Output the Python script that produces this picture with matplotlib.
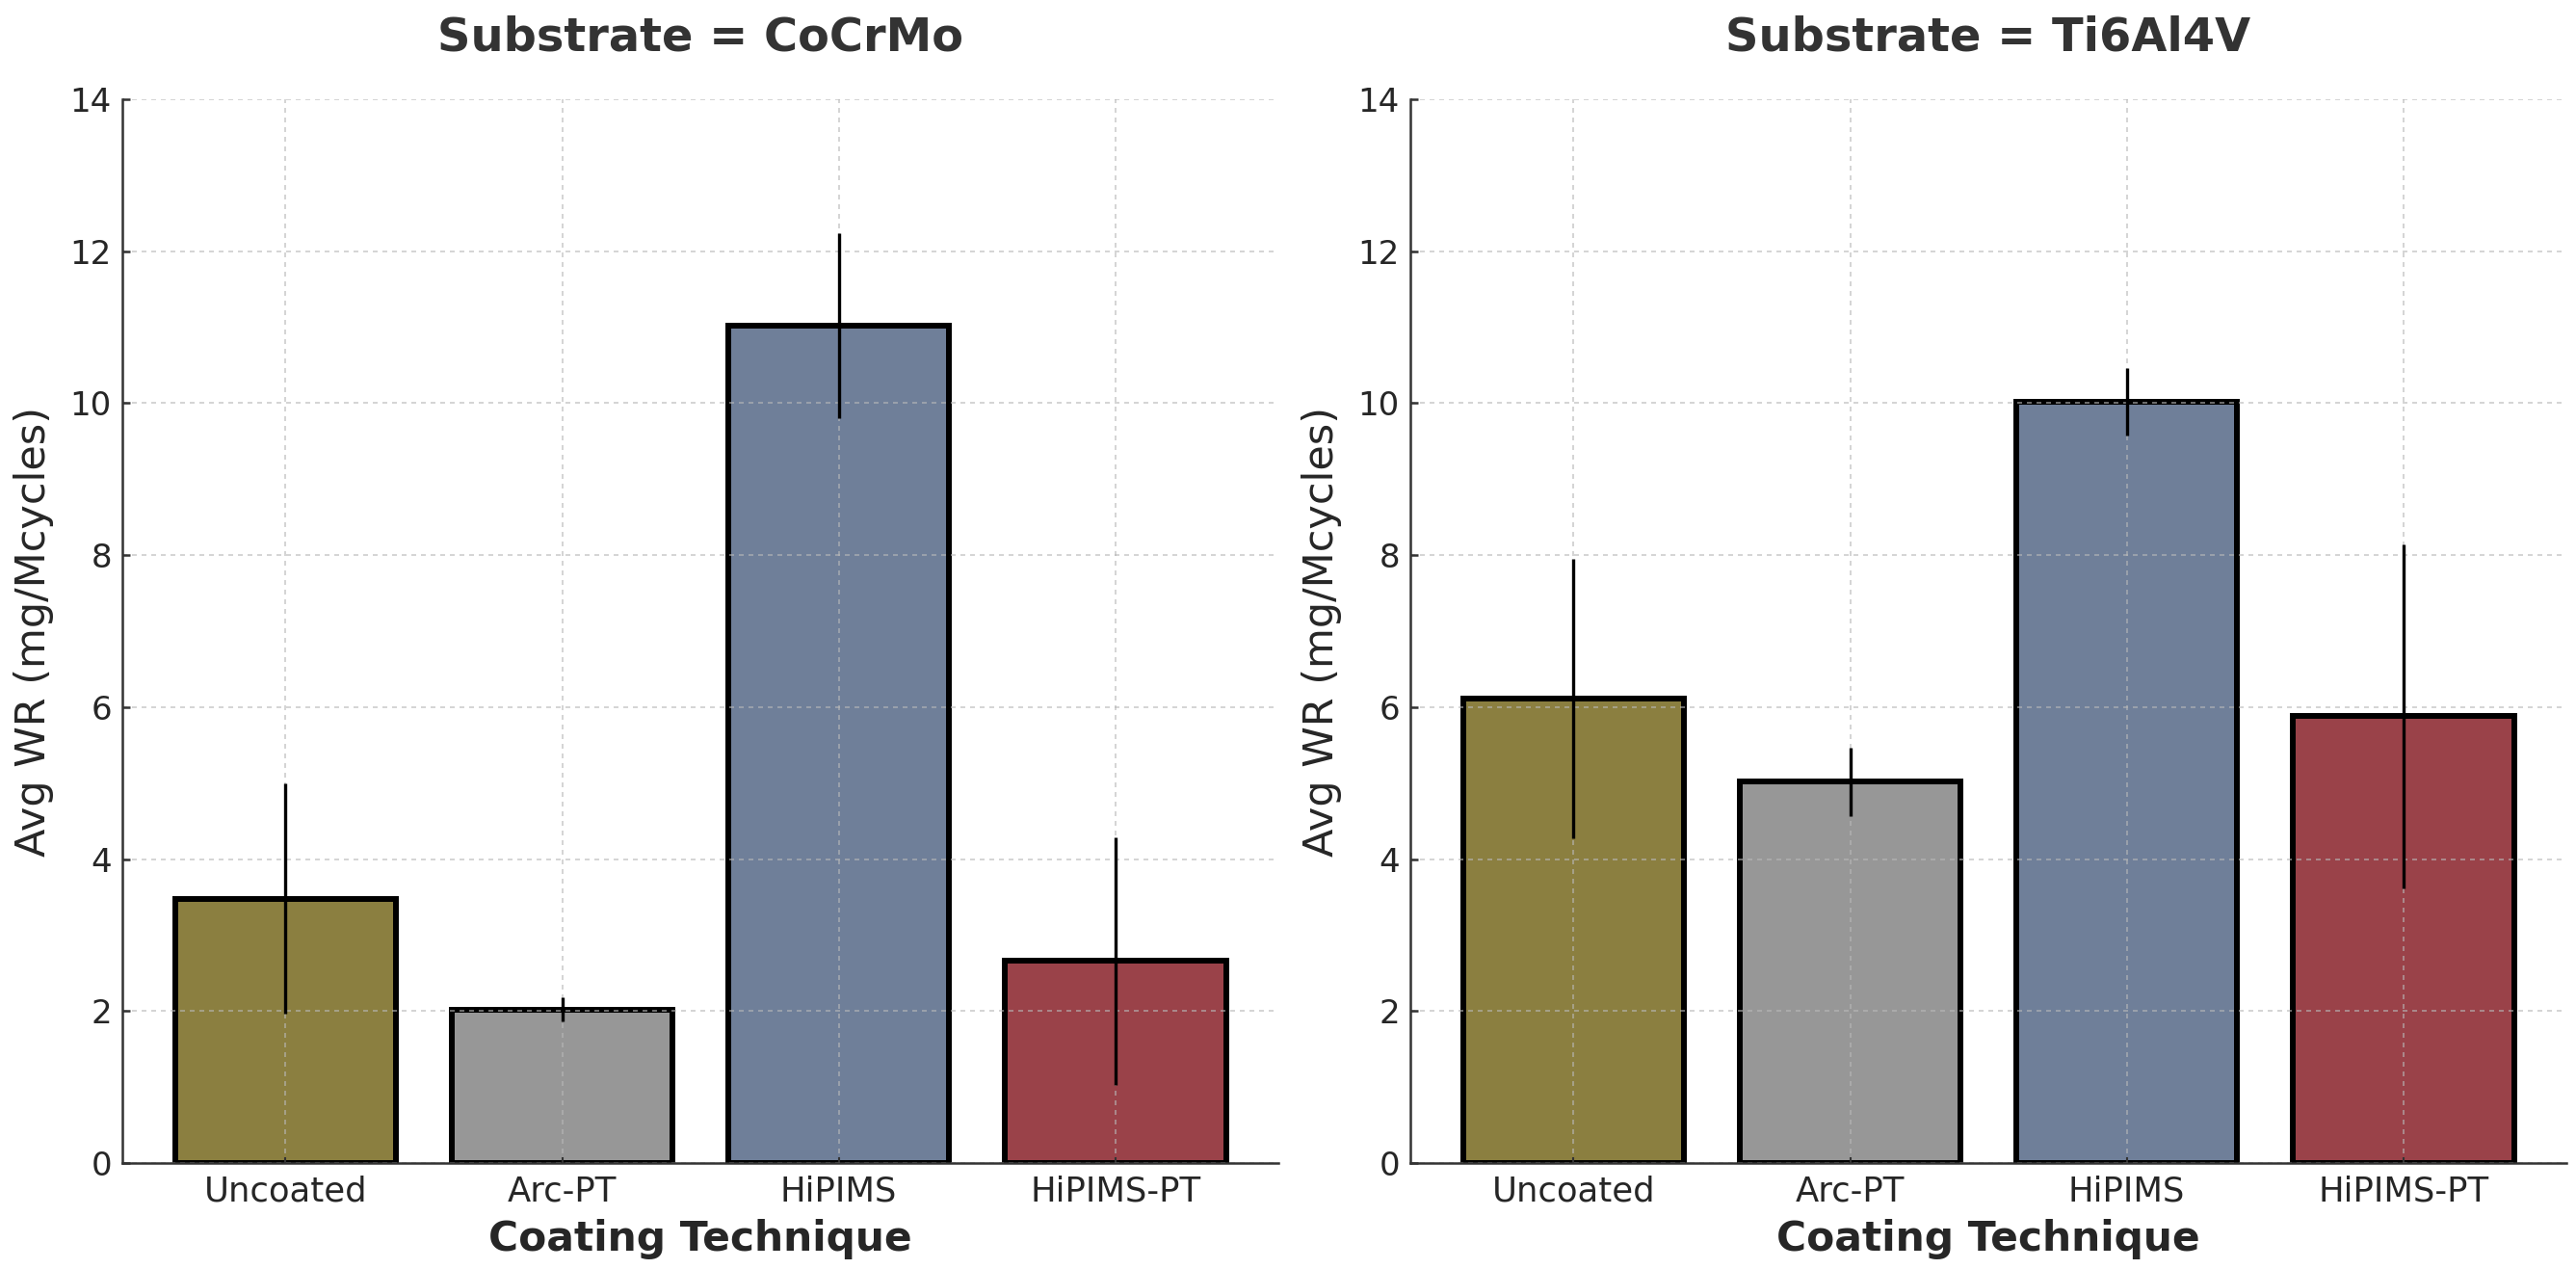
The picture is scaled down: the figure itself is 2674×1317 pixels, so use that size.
import numpy as np
import matplotlib
matplotlib.use('Agg')
import matplotlib.pyplot as plt

plt.rcParams['font.family'] = ['DejaVu Sans']

# data
techniques = ['Uncoated', 'Arc-PT', 'HiPIMS', 'HiPIMS-PT']
substrates = ['CoCrMo', 'Ti6Al4V']
wr_cocrmo = [3.48, 2.02, 11.02, 2.66]
err_cocrmo = [1.52, 0.16, 1.22, 1.63]
wr_ti6al4v = [6.11, 5.02, 10.02, 5.88]
err_ti6al4v = [1.84, 0.45, 0.44, 2.26]
bar_colors = ['#8b7f40', '#979797', '#6f7f99', '#9a4249']

means = [wr_cocrmo, wr_ti6al4v]
errs = [err_cocrmo, err_ti6al4v]

fig = plt.figure(figsize=(26.74, 13.17), dpi=100)
ax_left = fig.add_axes([0.0475, 0.0835, 0.4488, 0.8383])
ax_right = fig.add_axes([0.5475, 0.0835, 0.4488, 0.8383])

txt = '#262626'
for ax, sub, m, e in zip([ax_left, ax_right], substrates, means, errs):
    x = np.arange(len(techniques))
    ax.bar(x, m, width=0.8, color=bar_colors, edgecolor='black', linewidth=4.3)
    ax.errorbar(x, m, yerr=e, fmt='none', ecolor='black', elinewidth=2.4, capsize=0)
    ax.set_xticks(x)
    ax.set_xticklabels(techniques)
    ax.set_ylim(0, 14)
    ax.set_yticks(np.arange(0, 15, 2))
    ax.grid(True, linestyle=(0, (3, 3)), linewidth=1.2, color='#b8b8b8', alpha=0.7)
    for s in ['top', 'right']:
        ax.spines[s].set_visible(False)
    for s in ['left', 'bottom']:
        ax.spines[s].set_color('#333333')
        ax.spines[s].set_linewidth(1.8)
    ax.tick_params(axis='y', direction='in', length=6, width=1.8, color='#333333',
                   labelsize=24.5, labelcolor=txt, pad=8)
    ax.tick_params(axis='x', direction='in', length=4, width=1.5, color='#333333',
                   labelsize=25.5, labelcolor=txt, pad=9)
    ax.set_xlabel('Coating Technique', fontsize=30.5, fontweight='bold', color=txt, labelpad=8)
    ax.set_ylabel('Avg WR (mg/Mcycles)', fontsize=31, color=txt, labelpad=12)
    ax.set_title('Substrate = {}'.format(sub), fontsize=34.5, fontweight='bold', color='#333333', pad=36)

plt.savefig('out.png', dpi=100)
plt.close('all')
